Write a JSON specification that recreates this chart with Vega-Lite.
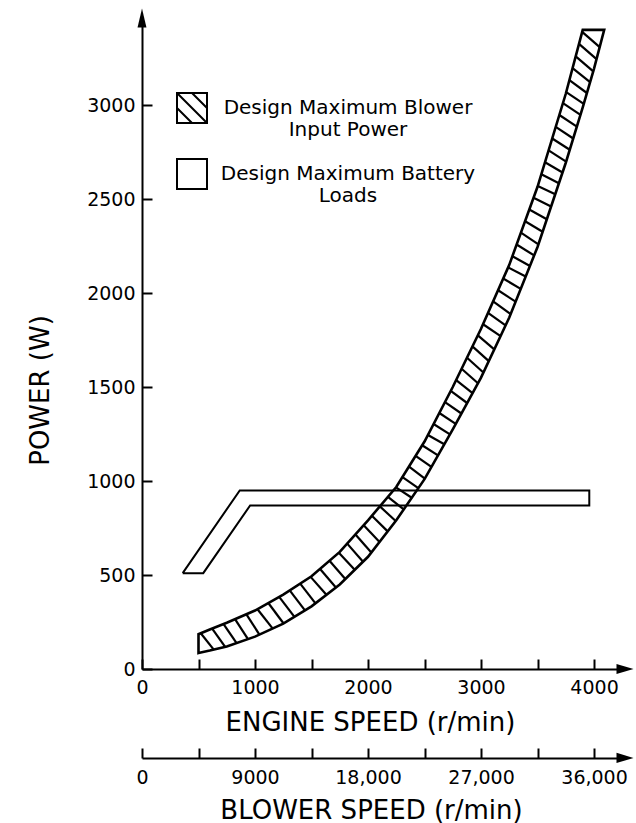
{
  "$schema": "https://vega.github.io/schema/vega-lite/v6.json",
  "width": 483,
  "height": 651,
  "autosize": {"type": "none"},
  "padding": {"left": 142, "top": 18, "right": 11, "bottom": 154},
  "background": "white",
  "config": {
    "font": "DejaVu Sans",
    "view": {"stroke": null},
    "axis": {
      "domainColor": "black", "domainWidth": 2, "tickColor": "black", "tickWidth": 2,
      "labelColor": "black", "titleColor": "black", "grid": false,
      "labelFont": "DejaVu Sans", "titleFont": "DejaVu Sans",
      "labelFontSize": 19, "titleFontSize": 26, "titleFontWeight": "normal",
      "labelFlush": false, "labelOverlap": false
    }
  },
  "datasets": {
    "blower": [
      {"rpm": 500, "lower": 85, "upper": 185},
      {"rpm": 600, "lower": 98, "upper": 210},
      {"rpm": 750, "lower": 120, "upper": 246},
      {"rpm": 1000, "lower": 172, "upper": 311},
      {"rpm": 1250, "lower": 241, "upper": 396},
      {"rpm": 1500, "lower": 333, "upper": 493},
      {"rpm": 1750, "lower": 450, "upper": 623},
      {"rpm": 2000, "lower": 597, "upper": 791},
      {"rpm": 2250, "lower": 791, "upper": 968},
      {"rpm": 2500, "lower": 1010, "upper": 1210},
      {"rpm": 2750, "lower": 1275, "upper": 1500},
      {"rpm": 3000, "lower": 1550, "upper": 1810},
      {"rpm": 3250, "lower": 1870, "upper": 2150},
      {"rpm": 3500, "lower": 2245, "upper": 2565},
      {"rpm": 3750, "lower": 2693, "upper": 3060},
      {"rpm": 3900, "lower": 2987, "upper": 3400},
      {"rpm": 4000, "lower": 3194, "upper": 3400},
      {"rpm": 4090, "lower": 3400, "upper": 3400}
    ],
    "hatch": [
      {"rpm": 520, "power": 190, "rpm2": 635, "power2": 103},
      {"rpm": 621, "power": 215, "rpm2": 736, "power2": 118},
      {"rpm": 722, "power": 239, "rpm2": 837, "power2": 138},
      {"rpm": 823, "power": 265, "rpm2": 938, "power2": 159},
      {"rpm": 924, "power": 291, "rpm2": 1039, "power2": 183},
      {"rpm": 1022, "power": 318, "rpm2": 1157, "power2": 215},
      {"rpm": 1118, "power": 351, "rpm2": 1253, "power2": 242},
      {"rpm": 1214, "power": 384, "rpm2": 1349, "power2": 277},
      {"rpm": 1307, "power": 418, "rpm2": 1442, "power2": 312},
      {"rpm": 1400, "power": 454, "rpm2": 1535, "power2": 349},
      {"rpm": 1492, "power": 490, "rpm2": 1632, "power2": 395},
      {"rpm": 1576, "power": 532, "rpm2": 1716, "power2": 434},
      {"rpm": 1659, "power": 576, "rpm2": 1799, "power2": 479},
      {"rpm": 1742, "power": 619, "rpm2": 1882, "power2": 528},
      {"rpm": 1816, "power": 667, "rpm2": 1956, "power2": 571},
      {"rpm": 1889, "power": 716, "rpm2": 2029, "power2": 620},
      {"rpm": 1962, "power": 765, "rpm2": 2102, "power2": 676},
      {"rpm": 2034, "power": 815, "rpm2": 2174, "power2": 732},
      {"rpm": 2105, "power": 865, "rpm2": 2245, "power2": 787},
      {"rpm": 2176, "power": 916, "rpm2": 2316, "power2": 849},
      {"rpm": 2247, "power": 966, "rpm2": 2387, "power2": 911},
      {"rpm": 2305, "power": 1021, "rpm2": 2445, "power2": 962},
      {"rpm": 2363, "power": 1077, "rpm2": 2503, "power2": 1013},
      {"rpm": 2421, "power": 1134, "rpm2": 2561, "power2": 1075},
      {"rpm": 2479, "power": 1190, "rpm2": 2619, "power2": 1136},
      {"rpm": 2530, "power": 1245, "rpm2": 2675, "power2": 1196},
      {"rpm": 2580, "power": 1303, "rpm2": 2725, "power2": 1248},
      {"rpm": 2631, "power": 1362, "rpm2": 2776, "power2": 1304},
      {"rpm": 2681, "power": 1420, "rpm2": 2826, "power2": 1359},
      {"rpm": 2732, "power": 1479, "rpm2": 2877, "power2": 1415},
      {"rpm": 2780, "power": 1537, "rpm2": 2925, "power2": 1468},
      {"rpm": 2828, "power": 1597, "rpm2": 2973, "power2": 1520},
      {"rpm": 2876, "power": 1656, "rpm2": 3021, "power2": 1577},
      {"rpm": 2924, "power": 1716, "rpm2": 3069, "power2": 1638},
      {"rpm": 2972, "power": 1775, "rpm2": 3117, "power2": 1700},
      {"rpm": 3018, "power": 1834, "rpm2": 3173, "power2": 1771},
      {"rpm": 3062, "power": 1894, "rpm2": 3217, "power2": 1828},
      {"rpm": 3107, "power": 1956, "rpm2": 3262, "power2": 1888},
      {"rpm": 3151, "power": 2015, "rpm2": 3306, "power2": 1954},
      {"rpm": 3196, "power": 2077, "rpm2": 3351, "power2": 2022},
      {"rpm": 3240, "power": 2136, "rpm2": 3395, "power2": 2088},
      {"rpm": 3278, "power": 2196, "rpm2": 3433, "power2": 2144},
      {"rpm": 3315, "power": 2258, "rpm2": 3470, "power2": 2200},
      {"rpm": 3353, "power": 2321, "rpm2": 3508, "power2": 2259},
      {"rpm": 3390, "power": 2382, "rpm2": 3545, "power2": 2326},
      {"rpm": 3427, "power": 2444, "rpm2": 3582, "power2": 2392},
      {"rpm": 3465, "power": 2507, "rpm2": 3620, "power2": 2460},
      {"rpm": 3502, "power": 2569, "rpm2": 3657, "power2": 2526},
      {"rpm": 3534, "power": 2632, "rpm2": 3689, "power2": 2584},
      {"rpm": 3566, "power": 2696, "rpm2": 3721, "power2": 2641},
      {"rpm": 3598, "power": 2759, "rpm2": 3753, "power2": 2699},
      {"rpm": 3630, "power": 2822, "rpm2": 3785, "power2": 2762},
      {"rpm": 3661, "power": 2884, "rpm2": 3816, "power2": 2822},
      {"rpm": 3693, "power": 2947, "rpm2": 3848, "power2": 2885},
      {"rpm": 3725, "power": 3010, "rpm2": 3880, "power2": 2948},
      {"rpm": 3754, "power": 3069, "rpm2": 3909, "power2": 3006},
      {"rpm": 3782, "power": 3133, "rpm2": 3937, "power2": 3064},
      {"rpm": 3810, "power": 3196, "rpm2": 3965, "power2": 3122},
      {"rpm": 3838, "power": 3259, "rpm2": 3993, "power2": 3179},
      {"rpm": 3867, "power": 3325, "rpm2": 4022, "power2": 3244},
      {"rpm": 3895, "power": 3389, "rpm2": 4050, "power2": 3308}
    ],
    "battery": [
      {"order": 1, "rpm": 360, "power": 510},
      {"order": 2, "rpm": 865, "power": 950},
      {"order": 3, "rpm": 3958, "power": 950},
      {"order": 4, "rpm": 3958, "power": 870},
      {"order": 5, "rpm": 957, "power": 870},
      {"order": 6, "rpm": 542, "power": 510},
      {"order": 7, "rpm": 360, "power": 510}
    ],
    "legendItems": [
      {"series": "Design Maximum Blower Input Power"},
      {"series": "Design Maximum Battery Loads"}
    ]
  },
  "layer": [
    {
      "data": {"name": "blower"},
      "mark": {"type": "area", "fillOpacity": 0, "stroke": "black", "strokeWidth": 2.6},
      "encoding": {
        "x": {
          "field": "rpm", "type": "quantitative",
          "scale": {"domain": [0, 4274], "nice": false},
          "axis": {
            "title": "ENGINE SPEED (r/min)",
            "values": [0, 500, 1000, 1500, 2000, 2500, 3000, 3500, 4000],
            "format": "d",
            "labelExpr": "datum.value % 1000 === 0 ? datum.label : ''",
            "tickSize": -10, "labelPadding": 19,
            "titleX": 228, "titleY": 53, "titleBaseline": "middle", "titleAlign": "center"
          }
        },
        "y": {
          "field": "lower", "type": "quantitative",
          "scale": {"domain": [0, 3463], "nice": false},
          "axis": {
            "title": "POWER (W)",
            "values": [0, 500, 1000, 1500, 2000, 2500, 3000],
            "format": "d",
            "tickSize": -10, "labelPadding": 17,
            "titleX": -102, "titleY": 372, "titleAngle": 270,
            "titleBaseline": "middle", "titleAlign": "center"
          }
        },
        "y2": {"field": "upper"}
      }
    },
    {
      "data": {"name": "hatch"},
      "mark": {"type": "rule", "color": "black", "strokeWidth": 2.2},
      "encoding": {
        "x": {"field": "rpm", "type": "quantitative", "axis": null},
        "y": {"field": "power", "type": "quantitative"},
        "x2": {"field": "rpm2"},
        "y2": {"field": "power2"}
      }
    },
    {
      "data": {"name": "battery"},
      "mark": {"type": "line", "color": "black", "strokeWidth": 2},
      "encoding": {
        "x": {"field": "rpm", "type": "quantitative", "axis": null},
        "y": {"field": "power", "type": "quantitative"},
        "order": {"field": "order", "type": "quantitative"}
      }
    },
    {
      "data": {"values": [{}]},
      "mark": {"type": "point", "shape": "M0,-1L0.47,1L-0.47,1Z", "filled": true, "color": "black", "size": 361, "opacity": 1, "strokeWidth": 0},
      "encoding": {
        "x": {"datum": 0, "type": "quantitative", "axis": null},
        "y": {"datum": 3463, "type": "quantitative"}
      }
    },
    {
      "data": {"values": [{}]},
      "mark": {"type": "point", "shape": "M1,0L-1,0.6L-1,-0.6Z", "filled": true, "color": "black", "size": 289, "opacity": 1, "strokeWidth": 0},
      "encoding": {
        "x": {"datum": 4274, "type": "quantitative", "axis": null},
        "y": {"datum": 0, "type": "quantitative"}
      }
    },
    {
      "data": {"values": [{}]},
      "mark": {"type": "point", "shape": "M1,0L-1,0.6L-1,-0.6Z", "filled": true, "color": "black", "size": 289, "opacity": 1, "strokeWidth": 0},
      "encoding": {
        "x": {
          "datum": 4274, "type": "quantitative",
          "axis": {
            "orient": "bottom", "offset": 89,
            "title": "BLOWER SPEED (r/min)",
            "values": [0, 500, 1000, 1500, 2000, 2500, 3000, 3500, 4000],
            "labelExpr": "datum.value % 1000 === 0 ? (datum.value === 1000 ? '9000' : format(datum.value * 9, ',')) : ''",
            "tickSize": -10, "labelPadding": 20,
            "titleX": 229, "titleY": 52, "titleBaseline": "middle", "titleAlign": "center"
          }
        },
        "y": {"datum": -473, "type": "quantitative"}
      }
    },
    {
      "data": {"name": "legendItems"},
      "mark": {"type": "point", "opacity": 0},
      "encoding": {
        "x": {"datum": 0, "type": "quantitative", "axis": null},
        "y": {"datum": 0, "type": "quantitative"},
        "shape": {
          "field": "series", "type": "nominal",
          "scale": {
            "domain": ["Design Maximum Blower Input Power", "Design Maximum Battery Loads"],
            "range": ["M-1,-1.4L1,-1.4L1,0.6L-1,0.6Z M-1,-1.4L1,0.6 M-1,-0.4L0,0.6 M0,-1.4L1,-0.4", "M-1,-1.4L1,-1.4L1,0.6L-1,0.6Z"]
          },
          "legend": {
            "orient": "none", "legendX": 34, "legendY": 80, "title": null, "padding": 0,
            "symbolSize": 900, "symbolStrokeWidth": 2, "symbolStrokeColor": "black",
            "symbolFillColor": "white", "symbolOpacity": 1,
            "labelFontSize": 20, "labelColor": "black", "labelFont": "DejaVu Sans",
            "labelExpr": "datum.label === 'Design Maximum Blower Input Power' ? ['Design Maximum Blower', 'Input Power'] : ['Design Maximum Battery', 'Loads']",
            "labelAlign": "center", "labelOffset": 140, "labelBaseline": "alphabetic", "labelLimit": 0,
            "rowPadding": 15,
            "encode": {
              "symbols": {"update": {"opacity": {"value": 1}}},
              "labels": {"update": {"lineHeight": {"value": 25}}}
            }
          }
        }
      }
    }
  ],
  "resolve": {"axis": {"x": "independent"}}
}
